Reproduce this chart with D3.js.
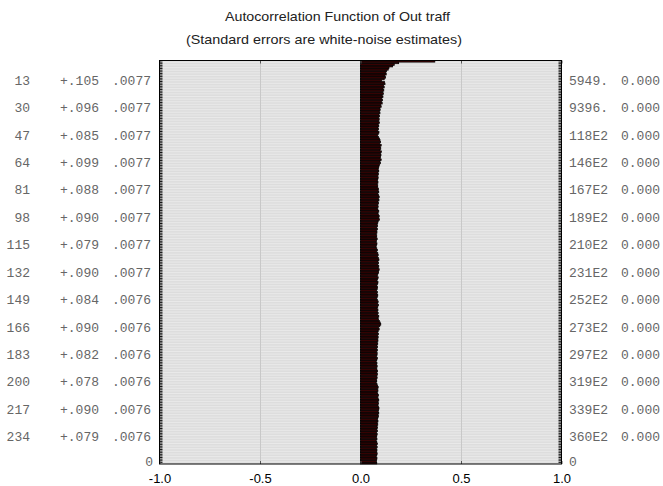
<!DOCTYPE html>
<html><head><meta charset="utf-8">
<script src="https://cdn.jsdelivr.net/npm/d3@7"></script>
<style>body{margin:0;background:#fff}svg{display:block}</style>
</head><body>
<script>
const titleLines = ["Autocorrelation Function of Out traff", "(Standard errors are white-noise estimates)"];
const acf = [
.370,.190,.168,.160,.142,.138,.130,.126,.128,.121,
.125,.118,.105,.120,.122,.115,.118,.112,.116,.110,
.114,.108,.112,.106,.110,.104,.108,.100,.103,.096,
.098,.094,.097,.092,.095,.090,.093,.089,.094,.088,
.091,.087,.090,.086,.092,.088,.085,.090,.094,.097,
.100,.096,.103,.098,.101,.097,.104,.099,.102,.100,
.098,.103,.097,.099,.095,.092,.090,.088,.091,.087,
.089,.085,.088,.086,.084,.087,.083,.086,.085,.089,
.088,.091,.086,.090,.093,.089,.092,.087,.090,.085,
.088,.084,.087,.091,.086,.089,.093,.090,.094,.088,
.086,.083,.085,.081,.084,.080,.082,.078,.081,.079,
.083,.080,.078,.082,.079,.077,.081,.084,.080,.086,
.088,.085,.089,.092,.087,.090,.086,.091,.088,.093,
.089,.090,.086,.083,.088,.085,.082,.087,.084,.081,
.085,.083,.080,.084,.082,.086,.083,.081,.084,.088,
.085,.089,.086,.083,.087,.084,.088,.085,.091,.087,
.090,.094,.098,.101,.096,.090,.093,.088,.086,.089,
.085,.088,.084,.087,.083,.086,.082,.085,.081,.084,
.080,.083,.082,.079,.084,.081,.078,.082,.080,.083,
.079,.082,.085,.081,.084,.080,.083,.079,.081,.078,
.082,.085,.088,.084,.087,.083,.086,.089,.085,.088,
.091,.087,.090,.086,.089,.092,.090,.088,.091,.087,
.089,.086,.084,.087,.083,.086,.082,.085,.081,.084,
.080,.083,.081,.079,.082,.078,.081,.084,.080,.083,
.079,.082,.080,.083,.081,.078,.082,.080,.079,.081];
const lagLabels = [13,30,47,64,81,98,115,132,149,166,183,200,217,234];
const corrLabels = ["+.105","+.096","+.085","+.099","+.088","+.090","+.079","+.090","+.084","+.090","+.082","+.078","+.090","+.079"];
const seLabels = [".0077",".0077",".0077",".0077",".0077",".0077",".0077",".0077",".0076",".0076",".0076",".0076",".0076",".0076"];
const qLabels = ["5949.","9396.","118E2","146E2","167E2","189E2","210E2","231E2","252E2","273E2","297E2","319E2","339E2","360E2"];
const pLabels = ["0.000","0.000","0.000","0.000","0.000","0.000","0.000","0.000","0.000","0.000","0.000","0.000","0.000","0.000"];
const xTicks = [-1.0,-0.5,0.0,0.5,1.0];

const W=663,H=486;
const L=159.5,R=561.5,T=60.5,B=464;
const lags = acf.map((d,i)=>i+1);
const svg = d3.select("body").append("svg").attr("width",W).attr("height",H);
const x = d3.scaleLinear().domain([-1,1]).range([L,R]);
const y = d3.scaleBand().domain(lags).range([T,B]).paddingInner(0);
const h = y.bandwidth();

// title
const tW = [225, 276], tX = [225, 186], tY = [21, 44];
svg.selectAll("text.title").data(titleLines).join("text").attr("class","title")
  .attr("x",(d,i)=>tX[i]).attr("y",(d,i)=>tY[i])
  .attr("textLength",(d,i)=>tW[i]).attr("lengthAdjust","spacingAndGlyphs")
  .attr("font-family","Liberation Sans, Arial, sans-serif")
  .attr("font-size",13).attr("fill","#222").text(d=>d);

// plot background rows
svg.append("rect").attr("x",L).attr("y",T).attr("width",R-L).attr("height",B-T).attr("fill","#d6d6d6");
svg.append("g").selectAll("rect").data(lags).join("rect")
  .attr("x",L).attr("y",d=>y(d)).attr("width",R-L).attr("height",h*0.62).attr("fill","#e9e9e9");

// vertical grid
svg.append("g").selectAll("line").data(xTicks.filter(v=>Math.abs(v)<1)).join("line")
  .attr("x1",d=>Math.round(x(d))+0.5).attr("x2",d=>Math.round(x(d))+0.5).attr("y1",T).attr("y2",B)
  .attr("stroke","#c8c8c8").attr("stroke-width",1);

// bars
svg.append("g").selectAll("rect").data(acf).join("rect")
  .attr("x",d=>x(Math.min(0,d))).attr("y",(d,i)=>y(i+1))
  .attr("width",d=>Math.abs(x(d)-x(0))).attr("height",h)
  .attr("fill","#3e0404").attr("stroke","#000").attr("stroke-width",0.7);

// side ticks (per lag)
const tk = svg.append("g").attr("stroke","#111").attr("stroke-width",1);
tk.selectAll("line.l").data(lags).join("line").attr("class","l")
  .attr("x1",L).attr("x2",L+3).attr("y1",d=>y(d)).attr("y2",d=>y(d));
tk.selectAll("line.r").data(lags).join("line").attr("class","r")
  .attr("x1",R-3).attr("x2",R).attr("y1",d=>y(d)).attr("y2",d=>y(d));

// x axis
const ax = svg.append("g").attr("transform",`translate(0,${B})`)
  .call(d3.axisBottom(x).tickValues(xTicks).tickFormat(d=>d.toFixed(1)).tickSize(-3).tickPadding(10));
ax.select(".domain").remove();
ax.selectAll("line").attr("stroke","#555");
ax.selectAll("text").attr("font-family","Liberation Sans, Arial, sans-serif").attr("font-size",13).attr("fill","#000");
const axt = svg.append("g").attr("transform",`translate(0,${T})`)
  .call(d3.axisTop(x).tickValues(xTicks).tickFormat("").tickSize(-3));
axt.select(".domain").remove();
axt.selectAll("line").attr("stroke","#555");

// border
svg.append("rect").attr("x",L).attr("y",T).attr("width",R-L).attr("height",B-T)
  .attr("fill","none").attr("stroke","#000").attr("stroke-width",1);

// side labels
const mono = "Liberation Mono, Courier New, monospace";
const lab = svg.append("g").attr("font-family",mono).attr("font-size",13).attr("fill","#666");
const yc = d => y(d)+h/2+4;
lab.selectAll("text.lag").data(lagLabels).join("text").attr("class","lag")
  .attr("x",30).attr("y",d=>yc(d)).attr("text-anchor","end").text(d=>d);
lab.selectAll("text.cor").data(corrLabels).join("text").attr("class","cor")
  .attr("x",99).attr("y",(d,i)=>yc(lagLabels[i])).attr("text-anchor","end").text(d=>d);
lab.selectAll("text.se").data(seLabels).join("text").attr("class","se")
  .attr("x",151).attr("y",(d,i)=>yc(lagLabels[i])).attr("text-anchor","end").text(d=>d);
lab.selectAll("text.q").data(qLabels).join("text").attr("class","q")
  .attr("x",569).attr("y",(d,i)=>yc(lagLabels[i])).attr("text-anchor","start").text(d=>d);
lab.selectAll("text.p").data(pLabels).join("text").attr("class","p")
  .attr("x",621).attr("y",(d,i)=>yc(lagLabels[i])).attr("text-anchor","start").text(d=>d);
lab.append("text").attr("x",153).attr("y",466).attr("text-anchor","end").text("0");
lab.append("text").attr("x",569).attr("y",466).attr("text-anchor","start").text("0");
</script>
</body></html>
